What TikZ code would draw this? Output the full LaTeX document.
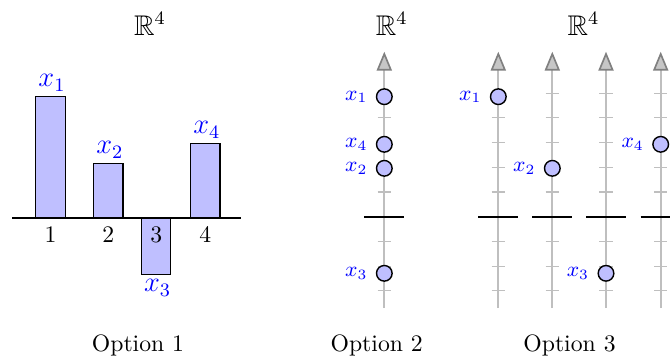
\documentclass[tikz,border=0pt]{standalone}
\usepackage{amsmath}
\usepackage{amssymb}
\usetikzlibrary{positioning,arrows.meta}
\tikzset{
  bar/.style={draw=black, fill=blue!25, line width=0.5pt},
  val/.style={text=blue, inner sep=2pt, font=\large},
  zero/.style={draw=black, line width=0.8pt},
  axis/.style={draw=gray!50, line width=0.7pt,
               -{Triangle[length=8pt, width=6.4pt, color=gray, fill=gray!45]}},
  axtick/.style={draw=gray!50, line width=0.5pt},
  dot/.style={circle, draw=black, fill=blue!25, line width=0.6pt,
              minimum size=6.6pt, inner sep=0pt},
  dotlab/.style={text=blue, font=\small},
  ttl/.style={font=\large},
}
\begin{document}
\begin{tikzpicture}[x=0.422pt,y=-0.422pt]
  \clip (0,0) rectangle (670,360);
  % option 1
  \foreach \i/\cx/\yv/\anc in {1/50.5/96.3/south, 2/108.3/163.3/south,
                               3/156.2/274.3/north, 4/205.3/143.3/south}{
    \draw[bar] (\cx-14.7,218) rectangle (\cx+14.7,\yv);
    \node[val, anchor=\anc] (v\i) at (\cx+1.5,\yv) {$x_\i$};
    \node[anchor=north] (n\i) at (\cx,218) {\i};
  }
  \draw[zero] (12,218) -- (241,218);
  % options 2 and 3: one axis per line
  \foreach \j/\ax in {a/384.3, b/498.3, c/552.3, d/606, e/660.7}{
    \coordinate (\j0) at (\ax,216.7);
    \draw[axis] (\ax,308) -- (\ax,51.7);
    \foreach \k in {-3,-2,-1,1,2,3,4,5}{
      \pgfmathsetmacro{\ty}{216.7-\k*24.7}
      \draw[axtick] (\ax-6.7,\ty) -- (\ax+6.7,\ty);
    }
    \draw[zero] (\ax-20,216.7) -- (\ax+20,216.7);
  }
  \foreach \i/\ax/\yv/\nm in {a1/384.3/96.7/1, a4/384.3/144.3/4, a2/384.3/168.3/2,
                              a3/384.3/273.3/3, b1/498.3/96.7/1, c2/552.3/168.3/2,
                              d3/606/273.3/3, e4/660.7/144.3/4}{
    \node[dot, label={[dotlab]left:$x_\nm$}] (p\i) at (\ax,\yv) {};
  }
  \node[ttl] (t1) at (150,24) {$\mathbb{R}^4$};
  \node[ttl] (t2) at (391.7,24) {$\mathbb{R}^4$};
  \node[ttl] (t3) at (583.5,24) {$\mathbb{R}^4$};
  \node (o1) at (138,345) {Option 1};
  \node (o2) at (376.7,345) {Option 2};
  \node (o3) at (569.5,345) {Option 3};
\end{tikzpicture}
\end{document}
